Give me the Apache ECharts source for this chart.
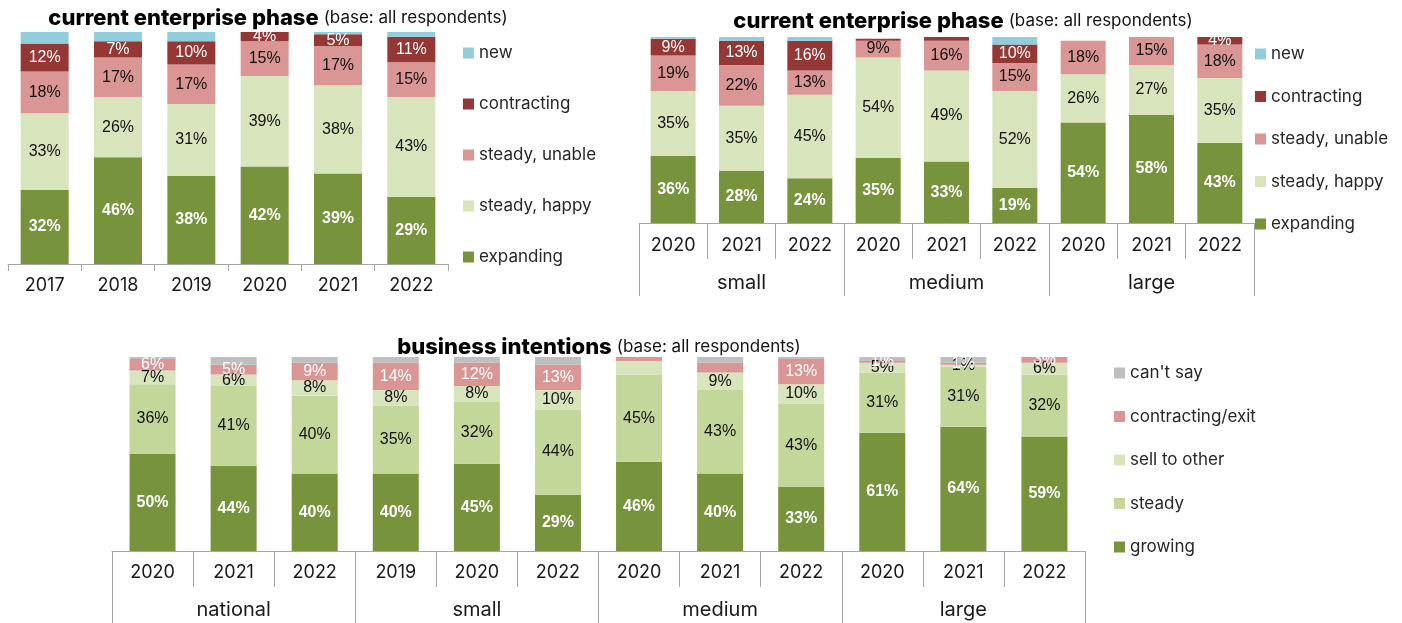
<!DOCTYPE html>
<html>
<head>
<meta charset="utf-8">
<title>enterprise phase and business intentions</title>
<script src="https://cdn.jsdelivr.net/npm/echarts@6/dist/echarts.min.js"></script>
<style>
  html, body { margin: 0; padding: 0; background: #ffffff; }
  #chart { width: 1402px; height: 623px; }
</style>
</head>
<body>
<div id="chart"></div>
<script>
// ---- current enterprise phase, by year ----
const years1 = ['2017', '2018', '2019', '2020', '2021', '2022'];
const expanding1 = [32, 46, 38, 42, 39, 29];
const happy1 = [33, 26, 31, 39, 38, 43];
const unable1 = [18, 17, 17, 15, 17, 15];
const contracting1 = [12, 7, 10, 4, 5, 11];
const new1 = [5, 4, 4, 1, 1, 2];

// ---- current enterprise phase, by enterprise size ----
const years2 = ['2020', '2021', '2022', '2020', '2021', '2022', '2020', '2021', '2022'];
const sizes2 = ['small', 'medium', 'large'];
const expanding2 = [36, 28, 24, 35, 33, 19, 54, 58, 43];
const happy2 = [35, 35, 45, 54, 49, 52, 26, 27, 35];
const unable2 = [19, 22, 13, 9, 16, 15, 18, 15, 18];
const contracting2 = [9, 13, 16, 1, 2, 10, 0, 0, 4];
const new2 = [1, 2, 2, 0, 0, 4, 0, 0, 0];
const contracting2Unlabelled = [3, 4];

// ---- business intentions ----
const years3 = ['2020', '2021', '2022', '2019', '2020', '2022', '2020', '2021', '2022', '2020', '2021', '2022'];
const groups3 = ['national', 'small', 'medium', 'large'];
const growing3 = [50, 44, 40, 40, 45, 29, 46, 40, 33, 61, 64, 59];
const steady3 = [36, 41, 40, 35, 32, 44, 45, 43, 43, 31, 31, 32];
const sellOther3 = [7, 6, 8, 8, 8, 10, 7, 9, 10, 5, 1, 6];
const exit3 = [6, 5, 9, 14, 12, 13, 2, 5, 13, 1, 1, 3];
const cantSay3 = [1, 4, 3, 3, 3, 4, 0, 3, 1, 2, 3, 0];
const sellOther3Unlabelled = [6];
const exit3Unlabelled = [6, 7];

const phaseNames = ['expanding', 'steady, happy', 'steady, unable', 'contracting', 'new'];
const intentNames = ['growing', 'steady', 'sell to other', 'contracting/exit', "can't say"];

const COLORS = {
  'expanding': '#77933c',
  'steady, happy': '#d8e4bc',
  'steady, unable': '#da9694',
  'contracting': '#953735',
  'new': '#92cddc',
  'growing': '#77933c',
  'steady': '#c4d79b',
  'sell to other': '#d8e4bc',
  'contracting/exit': '#da9694',
  "can't say": '#bfbfbf'
};

const UI_FONT = 'Inter, "Noto Sans", sans-serif';
const LABEL_FONT = '"Liberation Sans", Arial, sans-serif';
const AXIS_GRAY = '#a6a6a6';

// label look per segment kind: null = no labels
const LABEL_STYLE = {
  'expanding': { color: '#ffffff', fontWeight: 'bold' },
  'steady, happy': { color: '#111111', fontWeight: 'normal' },
  'steady, unable': { color: '#111111', fontWeight: 'normal' },
  'contracting': { color: '#ffffff', fontWeight: 'normal' },
  'new': null,
  'growing': { color: '#ffffff', fontWeight: 'bold' },
  'steady': { color: '#111111', fontWeight: 'normal' },
  'sell to other': { color: '#111111', fontWeight: 'normal' },
  'contracting/exit': { color: '#ffffff', fontWeight: 'normal' },
  "can't say": null
};

function stackSeries(name, values, axisIdx, stack, barWidth, unlabelled) {
  const ls = LABEL_STYLE[name];
  const skip = unlabelled || [];
  return {
    type: 'bar',
    name: name,
    stack: stack,
    xAxisIndex: axisIdx.x,
    yAxisIndex: axisIdx.y,
    barWidth: barWidth,
    itemStyle: { color: COLORS[name] },
    emphasis: { disabled: true },
    label: ls ? {
      show: true,
      position: 'inside',
      fontFamily: LABEL_FONT,
      fontSize: 16,
      color: ls.color,
      fontWeight: ls.fontWeight,
      formatter: p => p.value + '%'
    } : { show: false },
    data: values.map((v, i) => (v === 0 || skip.indexOf(i) >= 0)
      ? { value: v, label: { show: false } }
      : v)
  };
}

function titleRich(main, sub) {
  return {
    text: '{b|' + main + '} {s|' + sub + '}',
    textStyle: {
      rich: {
        b: { fontFamily: UI_FONT, fontSize: 22, fontWeight: 800, color: '#000000' },
        s: { fontFamily: UI_FONT, fontSize: 17, fontWeight: 'normal', color: '#111111' }
      }
    }
  };
}

function yearAxis(gridIndex, data, tickLen, margin) {
  return {
    type: 'category', gridIndex: gridIndex, data: data, position: 'bottom',
    axisLine: { show: true, lineStyle: { color: AXIS_GRAY, width: 1 } },
    axisTick: { show: true, length: tickLen, interval: 0, lineStyle: { color: AXIS_GRAY } },
    axisLabel: { interval: 0, margin: margin, fontFamily: UI_FONT, fontSize: 18, color: '#1a1a1a' },
    splitLine: { show: false }
  };
}

function groupAxis(gridIndex, data, tickLen, margin) {
  return {
    type: 'category', gridIndex: gridIndex, data: data, position: 'bottom', offset: 0,
    axisLine: { show: false },
    axisTick: { show: true, length: tickLen, interval: 0, lineStyle: { color: AXIS_GRAY } },
    axisLabel: { interval: 0, margin: margin, fontFamily: UI_FONT, fontSize: 20, color: '#1a1a1a' },
    splitLine: { show: false }
  };
}

function valueAxis(gridIndex) {
  return { type: 'value', gridIndex: gridIndex, min: 0, max: 100, show: false };
}

function legendBlock(names, left, top, gap) {
  return {
    orient: 'vertical', left: left, top: top, itemGap: gap, padding: 0,
    itemWidth: 11, itemHeight: 11, icon: 'rect', selectedMode: false,
    data: names.slice().reverse(),
    textStyle: { fontFamily: UI_FONT, fontSize: 17, color: '#262626', lineHeight: 20 }
  };
}

const t1 = titleRich('current enterprise phase', '(base: all respondents)');
const t2 = titleRich('current enterprise phase', '(base: all respondents)');
const t3 = titleRich('business intentions', '(base: all respondents)');

const option = {
  animation: false,
  title: [
    Object.assign(t1, { left: 273, top: 2, textAlign: 'center' }),
    Object.assign(t2, { left: 958, top: 5, textAlign: 'center' }),
    Object.assign(t3, { left: 594, top: 331, textAlign: 'center' })
  ],
  legend: [
    legendBlock(phaseNames, 463, 43, 31),
    legendBlock(phaseNames, 1255, 44, 22.5),
    legendBlock(intentNames, 1114, 363, 23.5)
  ],
  grid: [
    { left: 8, top: 32, width: 440, height: 232 },
    { left: 639, top: 37, width: 615, height: 186 },
    { left: 112, top: 357, width: 973, height: 194 }
  ],
  xAxis: [
    yearAxis(0, years1, 7, 13),
    yearAxis(1, years2, 36, 14),
    groupAxis(1, sizes2, 73, 50),
    yearAxis(2, years3, 36, 13),
    groupAxis(2, groups3, 80, 49)
  ],
  yAxis: [valueAxis(0), valueAxis(1), valueAxis(2)],
  series: [
    stackSeries('expanding', expanding1, { x: 0, y: 0 }, 'p1', 48),
    stackSeries('steady, happy', happy1, { x: 0, y: 0 }, 'p1', 48),
    stackSeries('steady, unable', unable1, { x: 0, y: 0 }, 'p1', 48),
    stackSeries('contracting', contracting1, { x: 0, y: 0 }, 'p1', 48),
    stackSeries('new', new1, { x: 0, y: 0 }, 'p1', 48),

    stackSeries('expanding', expanding2, { x: 1, y: 1 }, 'p2', 45),
    stackSeries('steady, happy', happy2, { x: 1, y: 1 }, 'p2', 45),
    stackSeries('steady, unable', unable2, { x: 1, y: 1 }, 'p2', 45),
    stackSeries('contracting', contracting2, { x: 1, y: 1 }, 'p2', 45, contracting2Unlabelled),
    stackSeries('new', new2, { x: 1, y: 1 }, 'p2', 45),

    stackSeries('growing', growing3, { x: 3, y: 2 }, 'p3', 46),
    stackSeries('steady', steady3, { x: 3, y: 2 }, 'p3', 46),
    stackSeries('sell to other', sellOther3, { x: 3, y: 2 }, 'p3', 46, sellOther3Unlabelled),
    stackSeries('contracting/exit', exit3, { x: 3, y: 2 }, 'p3', 46, exit3Unlabelled),
    stackSeries("can't say", cantSay3, { x: 3, y: 2 }, 'p3', 46)
  ]
};

const chart = echarts.init(document.getElementById('chart'), null, { renderer: 'canvas' });
chart.setOption(option);
</script>
</body>
</html>
